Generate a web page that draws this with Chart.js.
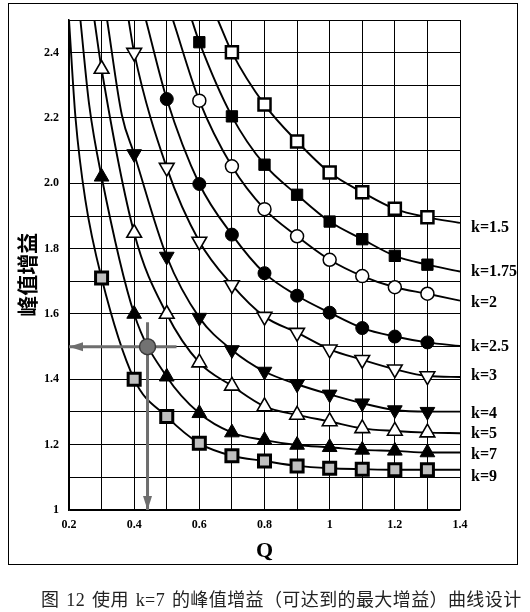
<!DOCTYPE html>
<html>
<head>
<meta charset="utf-8">
<script src="https://cdn.jsdelivr.net/npm/chart.js@4/dist/chart.umd.min.js"></script>
<style>
  html, body { margin: 0; padding: 0; background: #fff; }
  #wrap { position: relative; width: 530px; height: 612px; overflow: hidden; }
  #frame { position: absolute; left: 8px; top: 3px; width: 508px; height: 560px; border: 1.5px solid #000; pointer-events: none; }
  #caption { position: absolute; left: 41px; top: 585px; font: 18px "Liberation Serif", "Noto Sans CJK SC", serif; color: #222; white-space: nowrap; letter-spacing: 0.4px; word-spacing: 2px; }
</style>
</head>
<body>
<div id="wrap">
  <canvas id="chart" width="530" height="612"></canvas>
  <div id="frame"></div>
  <div id="caption">图 12 使用 k=7 的峰值增益（可达到的最大增益）曲线设计</div>
</div>
<script>
// Q where markers sit
var markQ = [0.3, 0.4, 0.5, 0.6, 0.7, 0.8, 0.9, 1.0, 1.1, 1.2, 1.3];

// peak gain read at each marker (null = no marker there)
var gainK15  = [null, null, null, null, 2.401, 2.241, 2.128, 2.033, 1.973, 1.922, 1.896];
var gainK175 = [null, null, null, 2.432, 2.205, 2.057, 1.965, 1.883, 1.829, 1.778, 1.751];
var gainK2   = [null, null, null, 2.253, 2.052, 1.921, 1.838, 1.766, 1.716, 1.682, 1.662];
var gainK25  = [null, null, 2.258, 1.998, 1.843, 1.725, 1.656, 1.604, 1.557, 1.531, 1.513];
var gainK3   = [null, 2.400, 2.048, 1.822, 1.689, 1.592, 1.543, 1.492, 1.460, 1.431, 1.410];
var gainK4   = [null, 2.090, 1.776, 1.589, 1.490, 1.424, 1.385, 1.354, 1.327, 1.306, 1.301];
var gainK5   = [2.350, 1.848, 1.600, 1.451, 1.380, 1.317, 1.291, 1.271, 1.250, 1.242, 1.237];
var gainK7   = [2.020, 1.600, 1.408, 1.296, 1.237, 1.214, 1.199, 1.192, 1.184, 1.181, 1.176];
var gainK9   = [1.710, 1.400, 1.286, 1.204, 1.166, 1.150, 1.135, 1.128, 1.125, 1.123, 1.123];

// curve parts above the first marker (no markers drawn there)
var topQ = [[0.657], [0.577], [0.519], [0.436], [0.383], [0.317, 0.362], [0.278], [0.235, 0.262], [0.200, 0.220, 0.250]];
var topG = [[2.5],   [2.5],   [2.5],   [2.5],   [2.5],   [2.5, 2.21],    [2.5],   [2.5, 2.24],    [2.5, 2.2, 1.95]];
// curve value at the right edge Q = 1.4
var endQ = 1.4;
var endG = [1.879, 1.730, 1.641, 1.502, 1.407, 1.301, 1.235, 1.176, 1.123];

var kNames = ['k=1.5', 'k=1.75', 'k=2', 'k=2.5', 'k=3', 'k=4', 'k=5', 'k=7', 'k=9'];
var labelG = [1.865, 1.73, 1.635, 1.50, 1.41, 1.295, 1.232, 1.17, 1.10];

// design point annotation (k=7, gain 1.5)
var designQ = [0.441];
var designG = [1.5];
var arrowHQ = [0.53, 0.2];
var arrowHG = [1.5, 1.5];
var arrowVQ = [0.441, 0.441];
var arrowVG = [1.575, 1.0];

var xTickLabels = ['0.2', '', '0.4', '', '0.6', '', '0.8', '', '1', '', '1.2', '', '1.4'];
var yTickLabels = ['1', '', '1.2', '', '1.4', '', '1.6', '', '1.8', '', '2.0', '', '2.2', '', '2.4', ''];
var yTitle = '峰值增益';

var gains = [gainK15, gainK175, gainK2, gainK25, gainK3, gainK4, gainK5, gainK7, gainK9];
var styles = [
    {shape: 'rect', r: 8.5, fill: '#fff', bw: 2.5, rot: 0},
    {shape: 'rect', r: 8, fill: '#000', bw: 1, rot: 0},
    {shape: 'circle', r: 6.5, fill: '#fff', bw: 1.5, rot: 0},
    {shape: 'circle', r: 6.5, fill: '#000', bw: 1, rot: 0},
    {shape: 'triangle', r: 8.5, fill: '#fff', bw: 1.6, rot: 180},
    {shape: 'triangle', r: 8.5, fill: '#000', bw: 1, rot: 180},
    {shape: 'triangle', r: 8.5, fill: '#fff', bw: 1.6, rot: 0},
    {shape: 'triangle', r: 8.5, fill: '#000', bw: 1, rot: 0},
    {shape: 'rect', r: 8.5, fill: '#c0c0c0', bw: 3, rot: 0}
];

function pts(qs, gs) {
    var out = [];
    for (var i = 0; i < qs.length; i++) {
        if (gs[i] != null) out.push({x: qs[i], y: gs[i]});
    }
    return out;
}

var datasets = [];

// annotation first so it sits on top
datasets.push({
    label: 'design', data: pts(designQ, designG), showLine: false,
    pointStyle: 'circle', pointRadius: 8, pointBackgroundColor: '#727272',
    pointBorderColor: '#3a3a3a', pointBorderWidth: 1.5
});
datasets.push({
    label: 'arrowH', arrow: true, data: pts(arrowHQ, arrowHG), showLine: true,
    borderColor: '#6e6e6e', borderWidth: 3, pointRadius: 0
});
datasets.push({
    label: 'arrowV', arrow: true, data: pts(arrowVQ, arrowVG), showLine: true,
    borderColor: '#6e6e6e', borderWidth: 3, pointRadius: 0
});

for (var s = 0; s < kNames.length; s++) {
    var st = styles[s];
    var data = pts(topQ[s], topG[s]);
    var nTop = data.length;
    data = data.concat(pts(markQ, gains[s]));
    var nMarks = data.length;
    data.push({x: endQ, y: endG[s]});
    (function (st, nTop, nMarks) {
        datasets.push({
            label: kNames[s],
            data: data,
            showLine: true,
            borderColor: '#000',
            borderWidth: 1.9,
            cubicInterpolationMode: 'monotone',
            pointStyle: st.shape,
            pointRotation: st.rot,
            pointRadius: function (c) { return (c.dataIndex >= nTop && c.dataIndex < nMarks) ? st.r : 0; },
            pointBackgroundColor: st.fill,
            pointBorderColor: '#000',
            pointBorderWidth: st.bw
        });
    })(st, nTop, nMarks);
}

var arrowHeads = {
    id: 'arrowHeads',
    afterDatasetsDraw: function (chart) {
        var ctx = chart.ctx;
        chart.data.datasets.forEach(function (ds, i) {
            if (!ds.arrow) return;
            var els = chart.getDatasetMeta(i).data;
            var a = els[els.length - 2], b = els[els.length - 1];
            var ang = Math.atan2(b.y - a.y, b.x - a.x);
            var len = 14, half = 4.5;
            ctx.save();
            ctx.translate(b.x, b.y);
            ctx.rotate(ang);
            ctx.beginPath();
            ctx.moveTo(0, 0);
            ctx.lineTo(-len, -half);
            ctx.lineTo(-len, half);
            ctx.closePath();
            ctx.fillStyle = ds.borderColor;
            ctx.fill();
            ctx.restore();
        });
    }
};

// k= labels at the right end of each curve, and the y axis title
var sideText = {
    id: 'sideText',
    afterDraw: function (chart) {
        var ctx = chart.ctx, ya = chart.scales.y, area = chart.chartArea;
        ctx.save();
        ctx.font = 'bold 16px "Liberation Serif", serif';
        ctx.fillStyle = '#000';
        ctx.textAlign = 'left';
        ctx.textBaseline = 'middle';
        for (var i = 0; i < kNames.length; i++) {
            ctx.fillText(kNames[i], area.right + 11, ya.getPixelForValue(labelG[i]));
        }
        ctx.translate(27, ya.getPixelForValue(1.72));
        ctx.rotate(-Math.PI / 2);
        ctx.textAlign = 'center';
        ctx.font = 'bold 21px "Noto Sans CJK SC", sans-serif';
        ctx.fillText(yTitle, 0, 0);
        ctx.restore();
    }
};

new Chart(document.getElementById('chart').getContext('2d'), {
    type: 'scatter',
    data: {datasets: datasets},
    options: {
        responsive: false,
        animation: false,
        devicePixelRatio: 1,
        events: [],
        layout: {padding: {left: 0, top: 20, right: 70, bottom: 47}},
        plugins: {legend: {display: false}, tooltip: {enabled: false}},
        scales: {
            x: {
                type: 'linear', min: 0.2, max: 1.4,
                afterFit: function (sc) { sc.height = 55; },
                grid: {color: '#000', lineWidth: 1, drawTicks: false},
                border: {color: '#000', width: 1.5},
                ticks: {
                    stepSize: 0.1, autoSkip: false, maxRotation: 0, padding: 8, color: '#000',
                    font: {family: '"Liberation Serif", serif', size: 12, weight: 'bold'},
                    callback: function (v, i) { return xTickLabels[i]; }
                },
                title: {
                    display: true, text: 'Q', color: '#000', padding: {top: 0, bottom: 0},
                    font: {family: '"Liberation Serif", serif', size: 22, weight: 'bold'}
                }
            },
            y: {
                type: 'linear', min: 1, max: 2.5,
                afterFit: function (sc) { sc.width = 69; },
                grid: {color: '#000', lineWidth: 1, drawTicks: false},
                border: {color: '#000', width: 1.5},
                ticks: {
                    stepSize: 0.1, autoSkip: false, padding: 10, color: '#000',
                    font: {family: '"Liberation Serif", serif', size: 12, weight: 'bold'},
                    callback: function (v, i) { return yTickLabels[i]; }
                }
            }
        }
    },
    plugins: [arrowHeads, sideText]
});
</script>
</body>
</html>
